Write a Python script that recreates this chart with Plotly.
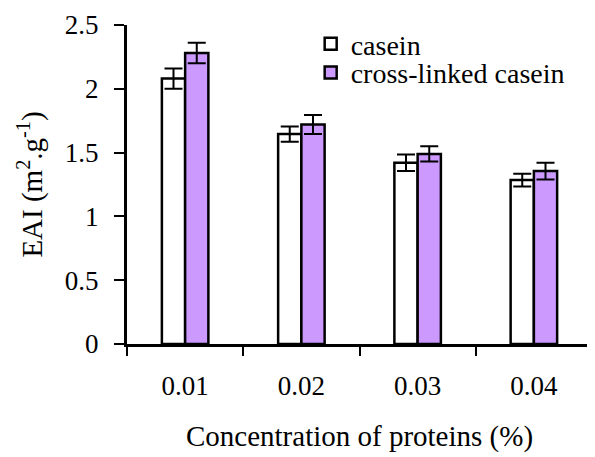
import plotly.graph_objects as go

categories = ["0.01", "0.02", "0.03", "0.04"]
casein = [2.08, 1.645, 1.42, 1.285]
casein_err = [0.08, 0.06, 0.065, 0.05]
crosslinked = [2.28, 1.72, 1.49, 1.355]
crosslinked_err = [0.08, 0.075, 0.06, 0.065]
y_ticks = [0, 0.5, 1, 1.5, 2, 2.5]
y_tick_labels = ["0", "0.5", "1", "1.5", "2", "2.5"]

FONT = "Liberation Serif, Times New Roman, serif"
FS = 27
FT = 29
FL = 28

fig = go.Figure()
fig.add_trace(go.Bar(
    x=categories, y=casein, name="casein", legend="legend",
    marker=dict(color="white", line=dict(color="black", width=2.5)),
    error_y=dict(type="data", array=casein_err, color="black", thickness=2, width=9),
))
fig.add_trace(go.Bar(
    x=categories, y=crosslinked, name="cross-linked casein", legend="legend2",
    marker=dict(color="#CC99FF", line=dict(color="black", width=2.5)),
    error_y=dict(type="data", array=crosslinked_err, color="black", thickness=2, width=9),
))

legend_common = dict(xanchor="left", yanchor="middle", bgcolor="rgba(0,0,0,0)",
                     font=dict(family=FONT, size=FL, color="black"), itemwidth=30)

fig.update_layout(
    width=587, height=449,
    margin=dict(l=119, r=3, t=17, b=113),
    paper_bgcolor="white", plot_bgcolor="white",
    barmode="group", bargap=0.6, bargroupgap=0,
    font=dict(family=FONT, size=FS, color="black"),
    showlegend=True,
    legend=dict(x=0.395, y=0.94, **legend_common),
    legend2=dict(x=0.395, y=0.85, **legend_common),
    xaxis=dict(
        type="category", range=[-0.5, 3.5],
        showline=True, linecolor="black", linewidth=3,
        ticks="outside", tickson="boundaries", ticklen=9, tickwidth=2, tickcolor="black",
        showgrid=False, zeroline=False, ticklabelstandoff=16,
        tickfont=dict(family=FONT, size=FS, color="black"),
        title=dict(text="Concentration of proteins (%)", font=dict(family=FONT, size=FT, color="black"), standoff=26),
    ),
    yaxis=dict(
        range=[0, 2.5], tickvals=y_ticks, ticktext=y_tick_labels,
        showline=True, linecolor="black", linewidth=3,
        ticks="outside", ticklen=10, tickwidth=2, tickcolor="black",
        showgrid=False, zeroline=False, ticklabelstandoff=10,
        tickfont=dict(family=FONT, size=FS, color="black"),
        title=dict(text="EAI (m<sup>2</sup>.g<sup>-1</sup>)", font=dict(family=FONT, size=FT, color="black"), standoff=14),
    ),
)

fig.write_html("out.html")
